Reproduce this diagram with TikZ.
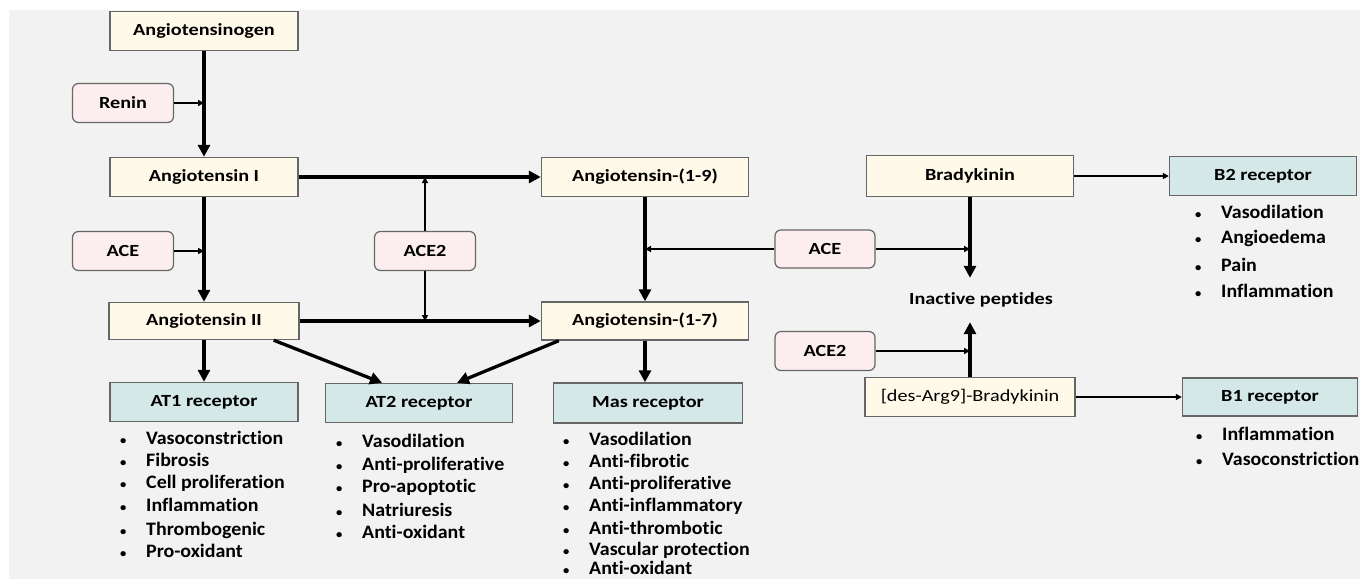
\documentclass[tikz,border=0pt]{standalone}
\usepackage{fontspec}
\setmainfont{Carlito}[Ligatures=NoCommon]
\newfontfamily\boxfont{Carlito}[FakeStretch=1.19, Ligatures=NoCommon]
\newfontfamily\listfont{Carlito}[FakeStretch=1.05, Ligatures=NoCommon]
\usetikzlibrary{arrows.meta}

\definecolor{paneGray}{HTML}{F2F2F2}
\definecolor{peptideFill}{HTML}{FEF9E8}
\definecolor{enzymeFill}{HTML}{FCEEEE}
\definecolor{receptorFill}{HTML}{D4E8E8}
\definecolor{edgeGray}{HTML}{666666}

\newcommand{\effect}[1]{\makebox[26pt][l]{\fontsize{12}{12}\selectfont\textbullet}#1}

\begin{document}
\begin{tikzpicture}[x=1pt,y=-1pt,
    every node/.append style={font=\boxfont\bfseries\fontsize{17}{20}\selectfont},
    peptide/.style={draw=edgeGray, fill=peptideFill, line width=1.4pt, minimum height=39pt},
    enzyme/.style={draw=edgeGray, fill=enzymeFill, line width=1.2pt,
                   rounded corners=6pt, minimum width=101pt, minimum height=39pt},
    receptor/.style={draw=edgeGray, fill=receptorFill, line width=1.4pt, minimum height=39pt},
    effects/.style={anchor=west, inner sep=0pt, text height=13pt, text depth=4pt,
                    font=\listfont\bfseries\fontsize{19}{22}\selectfont},
    conv/.style={line width=3.3pt, -{Triangle[length=12pt,width=12pt]}},
    cat/.style={line width=1.4pt, -{Triangle[length=6pt,width=6pt]}}]
    \useasboundingbox (0,0) rectangle (1360,579);
    \fill[paneGray] (9,10) rectangle (1360,579);

    % angiotensin peptides
    \node[peptide, minimum width=188pt] (agen) at (204,31)  {Angiotensinogen};
    \node[peptide, minimum width=188pt] (ang1) at (204,177) {Angiotensin I};
    \node[peptide, minimum width=190pt, minimum height=37pt] (ang2) at (204,321) {Angiotensin II};
    \node[peptide, minimum width=207pt] (a19)  at (645,177) {Angiotensin-(1-9)};
    \node[peptide, minimum width=207pt, minimum height=38pt] (a17) at (645,321) {Angiotensin-(1-7)};

    % kinins
    \node[peptide, minimum width=207pt, minimum height=41pt] (brady) at (970,176) {Bradykinin};
    \node[peptide, minimum width=210pt] (darg) at (970,397) {\mdseries[des-Arg9]-Bradykinin};
    \node[minimum height=44pt] (inact) at (981,300) {Inactive peptides};

    % enzymes
    \node[enzyme] (renin) at (123,103) {Renin};
    \node[enzyme] (ace)   at (123,251) {ACE};
    \node[enzyme] (acetwo) at (425,251) {ACE2};
    \node[enzyme, minimum width=100pt, minimum height=38pt] (acekin) at (825,249) {ACE};
    \node[enzyme, minimum width=100pt] (acetwokin) at (825,351) {ACE2};

    % receptors
    \node[receptor, minimum width=188pt] (at1) at (204,402) {AT1 receptor};
    \node[receptor, minimum width=187pt] (at2) at (419,403) {AT2 receptor};
    \node[receptor, minimum width=189pt, minimum height=40pt] (mas) at (648,403) {Mas receptor};
    \node[receptor, minimum width=187pt] (b2) at (1263,176) {B2 receptor};
    \node[receptor, minimum width=175pt, minimum height=38pt] (b1) at (1270,397) {B1 receptor};

    % conversions
    \draw[conv] (agen) -- (ang1);
    \draw[conv] (ang1) -- (ang2);
    \draw[conv] (ang1) -- (a19);
    \draw[conv] (ang2) -- (a17);
    \draw[conv] (a19) -- (a17);
    \draw[conv] (ang2) -- (at1);
    \draw[conv] ([xshift=-26pt]ang2.south east) -- ([xshift=-37pt]at2.north);
    \draw[conv] ([xshift=18pt]a17.south west) -- ([xshift=38pt]at2.north);
    \draw[conv] (a17) -- (a17 |- mas.north);
    \draw[conv] (brady) -- (brady |- inact.north);
    \draw[conv] (darg) -- (darg |- inact.south);

    % enzyme actions
    \draw[cat] (renin) -- (renin -| agen);
    \draw[cat] (ace) -- (ace -| ang1);
    \draw[cat] (acetwo) -- (acetwo |- ang1);
    \draw[cat] (acetwo) -- (acetwo |- ang2);
    \draw[cat] (acekin) -- (acekin -| a19);
    \draw[cat] (acekin) -- (acekin -| brady);
    \draw[cat] (acetwokin) -- (acetwokin -| darg);
    \draw[cat] (brady) -- (b2);
    \draw[cat] (darg) -- (b1);

    % effects
    \node[effects] (at1a) at (120,440) {\effect{Vasoconstriction}};
    \node[effects] (at1b) at (120,462) {\effect{Fibrosis}};
    \node[effects] (at1c) at (120,484) {\effect{Cell proliferation}};
    \node[effects] (at1d) at (120,507) {\effect{Inflammation}};
    \node[effects] (at1e) at (120,531) {\effect{Thrombogenic}};
    \node[effects] (at1f) at (120,553) {\effect{Pro-oxidant}};

    \node[effects] (at2a) at (336,443) {\effect{Vasodilation}};
    \node[effects] (at2b) at (336,466) {\effect{Anti-proliferative}};
    \node[effects] (at2c) at (336,488) {\effect{Pro-apoptotic}};
    \node[effects] (at2d) at (336,512) {\effect{Natriuresis}};
    \node[effects] (at2e) at (336,534) {\effect{Anti-oxidant}};

    \node[effects] (masa) at (563,441) {\effect{Vasodilation}};
    \node[effects] (masb) at (563,463) {\effect{Anti-fibrotic}};
    \node[effects] (masc) at (563,485) {\effect{Anti-proliferative}};
    \node[effects] (masd) at (563,507) {\effect{Anti-inflammatory}};
    \node[effects] (mase) at (563,530) {\effect{Anti-thrombotic}};
    \node[effects] (masf) at (563,551) {\effect{Vascular protection}};
    \node[effects] (masg) at (563,570) {\effect{Anti-oxidant}};

    \node[effects] (b2a) at (1195,214) {\effect{Vasodilation}};
    \node[effects] (b2b) at (1195,239) {\effect{Angioedema}};
    \node[effects] (b2c) at (1195,267) {\effect{Pain}};
    \node[effects] (b2d) at (1195,293) {\effect{Inflammation}};

    \node[effects] (b1a) at (1196,436) {\effect{Inflammation}};
    \node[effects] (b1b) at (1196,461) {\effect{Vasoconstriction}};
\end{tikzpicture}
\end{document}
